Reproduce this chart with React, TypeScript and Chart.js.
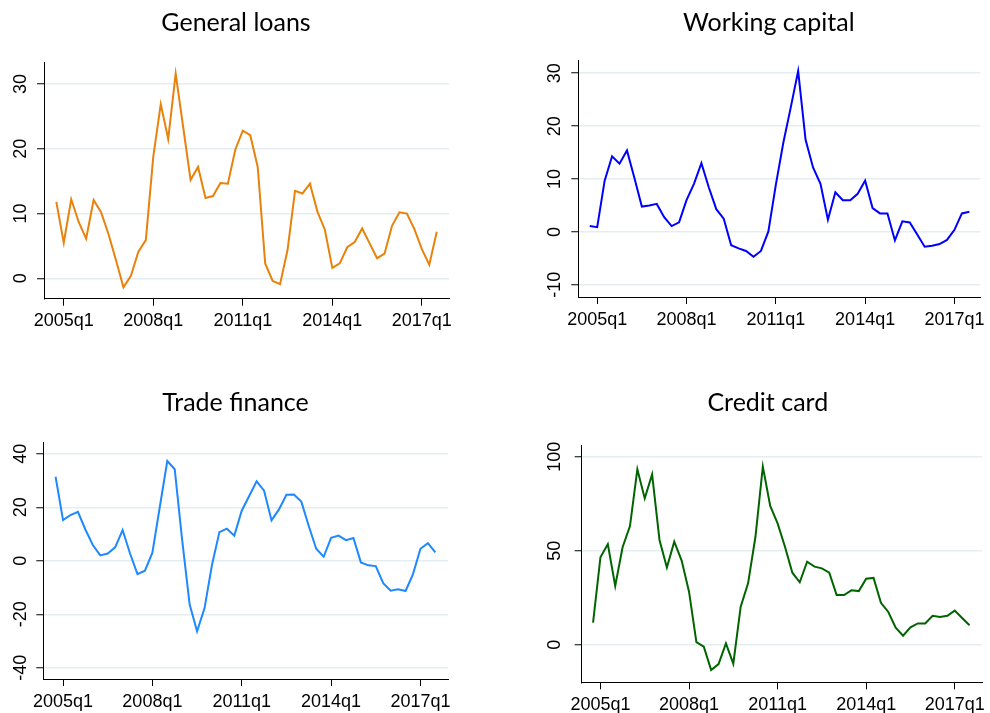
import React, { useEffect, useRef } from 'react';
import { Chart, registerables } from 'chart.js';

Chart.register(...registerables);

// ---------- data ----------
const START_YEAR = 2004;
const START_QUARTER = 4;
const N_QUARTERS = 52;
const quarters: string[] = [];
for (let i = 0; i < N_QUARTERS; i++) {
  const q0 = START_QUARTER - 1 + i;
  quarters.push(`${START_YEAR + Math.floor(q0 / 4)}q${(q0 % 4) + 1}`);
}

const xTickLabels = ['2005q1', '2008q1', '2011q1', '2014q1', '2017q1'];

const generalLoans = [
  11.8, 5.5, 12.2, 8.7, 6.1, 12.1, 10.2, 6.8, 2.8, -1.4, 0.4, 4.1, 5.9,
  18.8, 26.9, 21.5, 31.6, 23.4, 15.2, 17.2, 12.4, 12.7, 14.7, 14.6, 19.9, 22.8,
  22.1, 17.2, 2.3, -0.4, -0.9, 4.4, 13.5, 13.1, 14.6, 10.3, 7.5, 1.6, 2.3,
  4.8, 5.6, 7.7, 5.4, 3.1, 3.8, 8.1, 10.2, 10.0, 7.6, 4.5, 2.1, 7.2,
];

const workingCapital = [
  1.1, 0.9, 9.7, 14.3, 12.9, 15.4, 10.2, 4.8, 5.0, 5.3, 2.8, 1.1, 1.8,
  6.0, 9.1, 13.0, 8.4, 4.3, 2.5, -2.5, -3.1, -3.6, -4.7, -3.6, 0.1, 8.9,
  16.8, 23.5, 30.4, 17.4, 12.2, 9.1, 2.3, 7.5, 6.0, 6.0, 7.2, 9.7, 4.5,
  3.5, 3.5, -1.6, 2.0, 1.8, -0.5, -2.8, -2.6, -2.3, -1.5, 0.4, 3.5, 3.8,
];

const tradeFinance = [
  31.4, 15.2, 17.1, 18.3, 11.7, 5.9, 2.0, 2.7, 5.0, 11.5, 2.7, -5.0, -3.7,
  3.0, 20.2, 37.3, 34.2, 7.7, -16.3, -26.4, -17.8, -1.6, 10.7, 12.0, 9.4, 18.7,
  24.2, 29.7, 26.2, 15.1, 19.2, 24.7, 24.8, 22.1, 13.0, 4.5, 1.5, 8.6, 9.4,
  7.7, 8.5, -0.6, -1.7, -2.0, -8.4, -11.2, -10.7, -11.3, -5.0, 4.5, 6.6, 3.1,
];

const creditCard = [
  11.7, 46.5, 53.5, 31.2, 51.8, 63.1, 93.3, 77.8, 90.6, 55.7, 41.1, 54.8, 44.7,
  28.2, 1.4, -1.1, -13.5, -10.3, 0.7, -10.1, 20.2, 32.6, 57.4, 94.7, 73.8, 64.5,
  52.1, 38.3, 33.2, 44.1, 41.5, 40.6, 38.3, 26.4, 26.4, 28.9, 28.5, 35.1, 35.5,
  22.3, 17.4, 9.0, 4.8, 9.2, 11.3, 11.3, 15.4, 14.7, 15.4, 18.1, 14.2, 10.3,
];

const yTicksGeneral = [0, 10, 20, 30];
const yTicksWorking = [-10, 0, 10, 20, 30];
const yTicksTrade = [-40, -20, 0, 20, 40];
const yTicksCredit = [0, 50, 100];

// ---------- layout / style ----------
type Panel = {
  title: string;
  values: number[];
  color: string;
  yTicks: number[];
  yMin: number;
  yMax: number;
  xMin: number;
  xMax: number;
  canvas: { left: number; top: number; w: number; h: number };
  area: { L: number; T: number; R: number; B: number };
  titleX: number;
  titleY: number;
  yPad: number;
};

const panels: Panel[] = [
  {
    title: 'General loans', values: generalLoans, color: '#e8820c', yTicks: yTicksGeneral,
    yMin: -3.15, yMax: 33.4, xMin: -1.65, xMax: 52.64,
    canvas: { left: 0, top: 0, w: 495, h: 356 },
    area: { L: 44, T: 62, R: 449, B: 298.7 }, titleX: 236, titleY: 30.7, yPad: 6,
  },
  {
    title: 'Working capital', values: workingCapital, color: '#0000ff', yTicks: yTicksWorking,
    yMin: -12.3, yMax: 32.5, xMin: -1.54, xMax: 52.5,
    canvas: { left: 495, top: 0, w: 495, h: 356 },
    area: { L: 578.3, T: 60, R: 982, B: 297 }, titleX: 768.8, titleY: 30.7, yPad: 3.6,
  },
  {
    title: 'Trade finance', values: tradeFinance, color: '#1e88ff', yTicks: yTicksTrade,
    yMin: -44.2, yMax: 44.4, xMin: -1.65, xMax: 52.7,
    canvas: { left: 0, top: 356, w: 495, h: 357 },
    area: { L: 43.3, T: 442, R: 448, B: 679 }, titleX: 235.5, titleY: 411, yPad: 2,
  },
  {
    title: 'Credit card', values: creditCard, color: '#006400', yTicks: yTicksCredit,
    yMin: -20, yMax: 106.2, xMin: -1.54, xMax: 52.7,
    canvas: { left: 495, top: 356, w: 495, h: 357 },
    area: { L: 581.7, T: 445, R: 986.7, B: 682.3 }, titleX: 767.8, titleY: 411, yPad: 4.7,
  },
];

const TICK_FONT = { family: '"Liberation Sans", Arial, sans-serif', size: 18 };
const TITLE_FONT = '25px Lato, "Open Sans", sans-serif';

const titlePlugin = {
  id: 'panelTitle',
  afterDraw(chart: any, _args: any, opts: any) {
    const ctx = chart.ctx;
    ctx.save();
    ctx.font = TITLE_FONT;
    ctx.fillStyle = '#000';
    ctx.textAlign = 'center';
    ctx.textBaseline = 'alphabetic';
    ctx.fillText(opts.text, opts.x, opts.y);
    ctx.restore();
  },
};

function PanelChart({ p }: { p: Panel }) {
  const ref = useRef<HTMLCanvasElement | null>(null);
  useEffect(() => {
    if (!ref.current) return;
    const { canvas, area } = p;
    const chart = new Chart(ref.current, {
      type: 'line',
      data: {
        datasets: [
          {
            data: p.values.map((v, i) => ({ x: i, y: v })),
            borderColor: p.color,
            borderWidth: 2,
            pointRadius: 0,
            tension: 0,
            fill: false,
          },
        ],
      },
      plugins: [titlePlugin as any],
      options: {
        animation: false,
        responsive: false,
        events: [],
        layout: {
          padding: {
            left: 0,
            top: area.T - canvas.top,
            right: canvas.left + canvas.w - area.R,
            bottom: 0,
          },
        },
        plugins: {
          legend: { display: false },
          tooltip: { enabled: false },
          panelTitle: { text: p.title, x: p.titleX - canvas.left, y: p.titleY - canvas.top },
        } as any,
        scales: {
          x: {
            type: 'linear',
            min: p.xMin,
            max: p.xMax,
            afterBuildTicks: (s: any) => {
              s.ticks = xTickLabels.map((l) => ({ value: quarters.indexOf(l) }));
            },
            afterFit: (s: any) => {
              s.height = canvas.top + canvas.h - area.B;
            },
            ticks: {
              autoSkip: false,
              minRotation: 0,
              maxRotation: 0,
              padding: 5,
              color: '#000',
              font: TICK_FONT,
              callback: (v: any) => quarters[Math.round(Number(v))],
            },
            grid: { drawOnChartArea: false, drawTicks: true, tickLength: 7, tickColor: '#000', tickWidth: 1 },
            border: { display: true, color: '#000', width: 1 },
          },
          y: {
            type: 'linear',
            min: p.yMin,
            max: p.yMax,
            afterBuildTicks: (s: any) => {
              s.ticks = p.yTicks.map((v) => ({ value: v }));
            },
            afterFit: (s: any) => {
              s.width = area.L - canvas.left;
            },
            ticks: {
              minRotation: 90,
              maxRotation: 90,
              crossAlign: 'center',
              padding: p.yPad,
              color: '#000',
              font: TICK_FONT,
            },
            grid: { color: '#e4eef0', lineWidth: 1.5, drawTicks: true, tickLength: 7, tickColor: '#000', tickWidth: 1 },
            border: { display: true, color: '#000', width: 1 },
          },
        },
      } as any,
    });
    return () => chart.destroy();
  }, [p]);
  return (
    <canvas
      ref={ref}
      width={p.canvas.w}
      height={p.canvas.h}
      style={{
        position: 'absolute',
        left: p.canvas.left,
        top: p.canvas.top,
        width: p.canvas.w,
        height: p.canvas.h,
      }}
    />
  );
}

export default function App() {
  useEffect(() => {
    document.body.style.margin = '0';
    document.body.style.background = '#fff';
  }, []);
  return (
    <div style={{ position: 'relative', width: 990, height: 713, background: '#fff', overflow: 'hidden' }}>
      {panels.map((p) => (
        <PanelChart key={p.title} p={p} />
      ))}
    </div>
  );
}
